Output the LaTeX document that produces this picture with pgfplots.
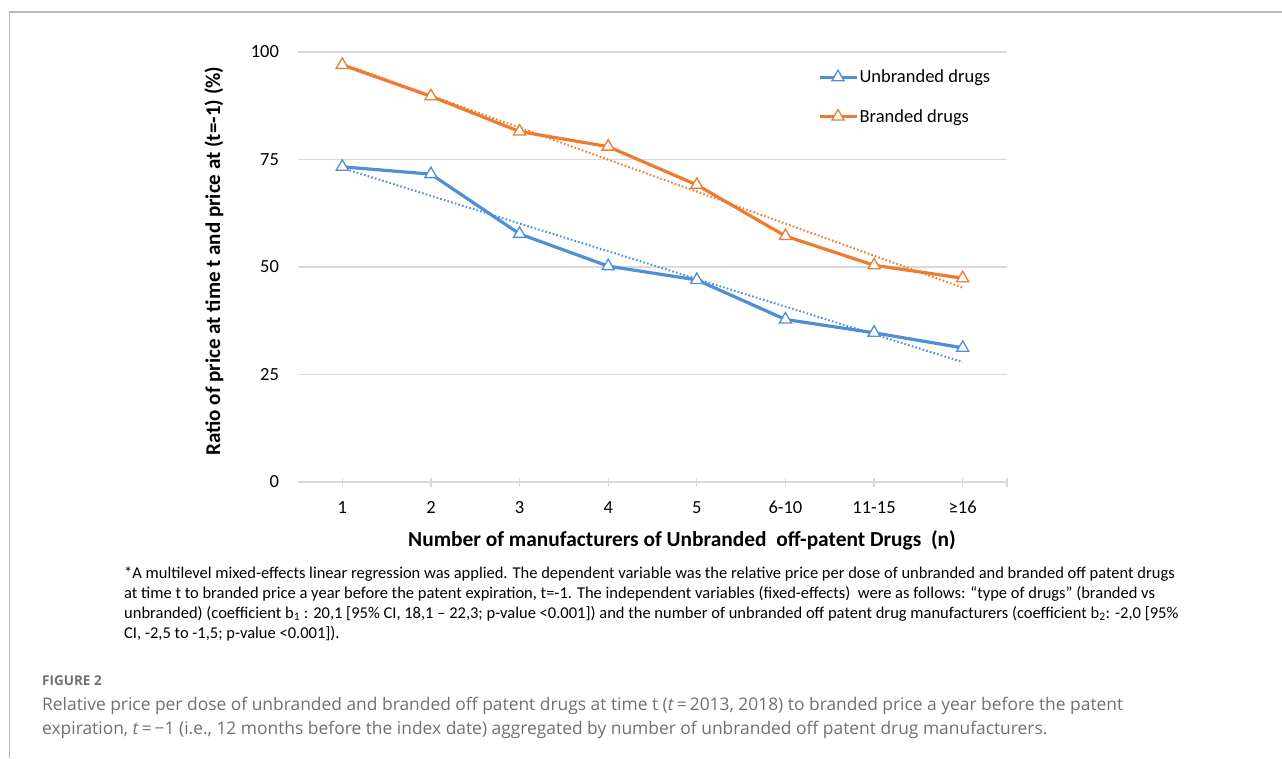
\documentclass[border=0pt]{standalone}
\usepackage{fontspec}
\setmainfont{Carlito}
\newfontfamily\capfont{Open Sans}
\usepackage{pgfplots}
\pgfplotsset{compat=1.18}
\definecolor{ubl}{HTML}{4F8FD3}
\definecolor{bor}{HTML}{EE7B30}
\definecolor{gridc}{HTML}{D9D9D9}
\definecolor{framec}{HTML}{B8B8B8}
\definecolor{capc}{HTML}{707070}

\begin{document}
\begin{tikzpicture}[x=1pt,y=-1pt]
\path[use as bounding box] (0,0) rectangle (1282,758);
% page frame
\draw[framec, line width=1.3pt] (9.5,758) -- (9.5,12) -- (1282,12);

\begin{axis}[
  at={(298pt,-482pt)}, anchor=south west,
  scale only axis, width=709pt, height=430pt,
  xmin=-0.5, xmax=7.5, ymin=0, ymax=100,
  ytick={0,25,50,75,100},
  xtick={0,...,7},
  xticklabels={1,2,3,4,5,6-10,11-15,≥16},
  extra x ticks={7.5}, extra x tick labels={},
  extra x tick style={grid=none},
  axis x line*=bottom, axis y line*=left,
  y axis line style={draw=none},
  x axis line style={gridc, line width=1.2pt},
  ytick style={draw=none},
  xtick style={gridc, line width=1.2pt},
  tick align=center, major tick length=9pt,
  ymajorgrids, grid style={gridc, line width=1.2pt},
  /pgf/number format/assume math mode=true,
  tick label style={font=\fontsize{18.5}{20}\selectfont, text=black},
  yticklabel style={anchor=east, xshift=-11pt},
  xticklabel style={anchor=base, yshift=-27pt},
  xlabel={\textbf{Number of manufacturers of Unbranded\ \ off-patent Drugs\ \ (n)}},
  ylabel={\textbf{Ratio of price at time t and price at (t=-1) (\%)}},
  xlabel style={at={(axis description cs:0.5416,-0.135)}, anchor=center, font=\fontsize{21.4}{23}\selectfont},
  ylabel style={at={(axis description cs:-0.1185,0.514)}, anchor=center, rotate=0, font=\fontsize{21}{23}\selectfont},
  legend style={at={(axis description cs:0.733,0.962)}, anchor=north west,
    draw=none, fill=none, inner sep=0pt, row sep=22pt,
    font=\fontsize{18.5}{20}\selectfont, nodes={inner sep=1.5pt}},
  legend cell align=left,
  legend image code/.code={\draw[mark repeat=2, mark phase=2, #1] plot coordinates {(0pt,0pt) (18.5pt,0pt) (37pt,0pt)};},
]
% linear trend lines
\addplot[forget plot, ubl, line width=2pt, dash pattern=on 1.6pt off 2.2pt] coordinates {(0,73.0) (7,27.9)};
\addplot[forget plot, bor, line width=2pt, dash pattern=on 1.6pt off 2.2pt] coordinates {(0,97.3) (7,45.2)};

% observed ratios
\addplot[ubl, line width=3.2pt, mark=triangle*, mark size=7pt,
  mark options={solid, fill=white, draw=ubl, line width=1.3pt}]
  coordinates {(0,73.3) (1,71.6) (2,57.7) (3,50.2) (4,47.0) (5,37.8) (6,34.7) (7,31.2)};
\addplot[bor, line width=3.2pt, mark=triangle*, mark size=7pt,
  mark options={solid, fill=white, draw=bor, line width=1.3pt}]
  coordinates {(0,97.0) (1,89.7) (2,81.5) (3,78.0) (4,69.1) (5,57.2) (6,50.4) (7,47.4)};
\legend{Unbranded drugs, Branded drugs}
\end{axis}

% footnote under the chart
\begin{scope}[every node/.style={anchor=base west, inner sep=0pt, font=\fontsize{16.5}{19}\selectfont}]
\node at (124,578) {*A multilevel mixed-effects linear regression was applied. The dependent variable was the relative price per dose of unbranded and branded off patent drugs};
\node at (124,598) {at time t to branded price a year before the patent expiration, t=-1. The independent variables (fixed-effects)\ \ were as follows: “type of drugs” (branded vs};
\node at (124,618) {unbranded) (coefficient b\textsubscript{1} : 20,1 [95\% CI, 18,1 – 22,3; p-value <0.001]) and the number of unbranded off patent drug manufacturers (coefficient b\textsubscript{2}: -2,0 [95\%};
\node at (124,638) {CI, -2,5 to -1,5; p-value <0.001]).};
\end{scope}

% figure caption
\node[anchor=base west, inner sep=0pt, text=capc, font=\capfont\bfseries\fontsize{13.5}{16}\selectfont] at (42,685) {FIGURE 2};
\begin{scope}[every node/.style={anchor=base west, inner sep=0pt, text=capc, font=\capfont\fontsize{17.4}{20}\selectfont}]
\node at (42,710) {Relative price per dose of unbranded and branded off patent drugs at time t (\textit{t}\,=\,2013, 2018) to branded price a year before the patent};
\node at (42,734) {expiration, \textit{t}\,=\,−1 (i.e., 12 months before the index date) aggregated by number of unbranded off patent drug manufacturers.};
\end{scope}
\end{tikzpicture}
\end{document}
